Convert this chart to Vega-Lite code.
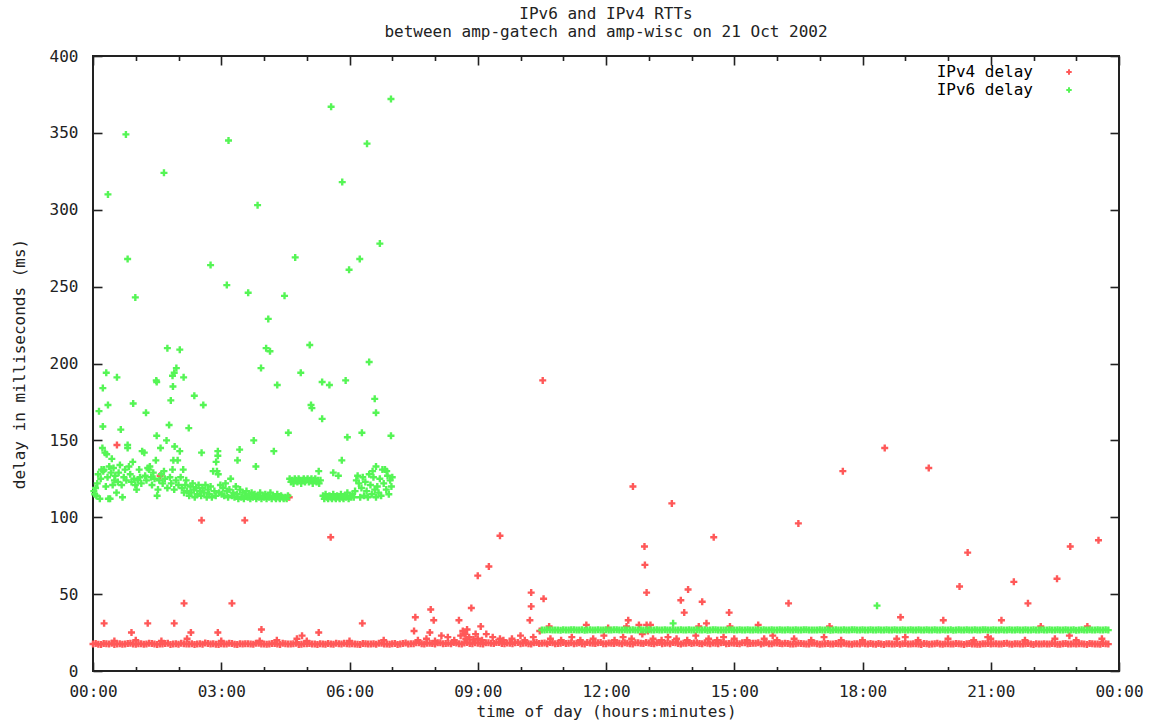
{
"$schema":"https://vega.github.io/schema/vega-lite/v6.json",
"width":1026,"height":615,"autosize":"none",
"padding":{"left":93,"top":56,"right":31,"bottom":52},
"background":"white",
"config":{"font":"DejaVu Sans Mono","view":{"stroke":"#222","strokeWidth":2},
"axis":{"labelFont":"DejaVu Sans Mono","labelFontSize":16,"labelColor":"#222","titleFont":"DejaVu Sans Mono","titleFontSize":16,"titleFontWeight":"normal","titleColor":"#222","tickColor":"#222","tickWidth":1.6,"domain":false,"grid":false,"labelOverlap":false,"labelFlush":false}},
"title":{"text":["IPv6 and IPv4 RTTs","between amp-gatech and amp-wisc on 21 Oct 2002"],"font":"DejaVu Sans Mono","fontSize":16,"fontWeight":"normal","color":"#222","anchor":"middle","lineHeight":18,"offset":8},
"datasets":{
"v4":[
{"t":0,"d":17.6},{"t":0.125,"d":17.4},{"t":0.25,"d":17.9},{"t":0.375,"d":17.5},{"t":0.5,"d":17.3},{"t":0.625,"d":17.8},{"t":0.75,"d":17.6},{"t":0.875,"d":18.1},
{"t":1,"d":17.4},{"t":1.125,"d":17.7},{"t":1.25,"d":17.5},{"t":1.375,"d":17.9},{"t":1.5,"d":17.3},{"t":1.625,"d":17.6},{"t":1.75,"d":18.0},{"t":1.875,"d":17.5},
{"t":2,"d":17.4},{"t":2.125,"d":17.8},{"t":2.25,"d":17.6},{"t":2.375,"d":17.3},{"t":2.5,"d":17.7},{"t":2.625,"d":18.2},{"t":2.75,"d":17.5},{"t":2.875,"d":17.4},
{"t":3,"d":17.8},{"t":3.125,"d":17.6},{"t":3.25,"d":17.9},{"t":3.375,"d":17.3},{"t":3.5,"d":17.5},{"t":3.625,"d":17.7},{"t":3.75,"d":17.4},{"t":3.875,"d":18.0},
{"t":4,"d":17.6},{"t":4.125,"d":17.5},{"t":4.25,"d":17.9},{"t":4.375,"d":17.3},{"t":4.5,"d":17.7},{"t":4.625,"d":17.6},{"t":4.75,"d":18.1},{"t":4.875,"d":17.4},
{"t":5,"d":17.8},{"t":5.125,"d":17.5},{"t":5.25,"d":17.3},{"t":5.375,"d":17.6},{"t":5.5,"d":17.9},{"t":5.625,"d":17.4},{"t":5.75,"d":17.7},{"t":5.875,"d":18.0},
{"t":6,"d":17.5},{"t":6.125,"d":17.6},{"t":6.25,"d":17.3},{"t":6.375,"d":17.8},{"t":6.5,"d":17.6},{"t":6.625,"d":17.4},{"t":6.75,"d":18.1},{"t":6.875,"d":17.5},
{"t":7,"d":17.7},{"t":7.125,"d":17.3},{"t":7.25,"d":17.9},{"t":7.375,"d":17.6},{"t":7.5,"d":17.8},{"t":7.625,"d":18.3},{"t":7.75,"d":17.6},{"t":7.875,"d":18.0},
{"t":8,"d":17.5},{"t":8.125,"d":18.4},{"t":8.25,"d":17.9},{"t":8.375,"d":17.7},{"t":8.5,"d":18.2},{"t":8.625,"d":17.6},{"t":8.75,"d":18.5},{"t":8.875,"d":17.8},
{"t":9,"d":18.1},{"t":9.125,"d":17.6},{"t":9.25,"d":18.3},{"t":9.375,"d":17.9},{"t":9.5,"d":18.6},{"t":9.625,"d":17.7},{"t":9.75,"d":18.0},{"t":9.875,"d":18.4},
{"t":10,"d":17.8},{"t":10.125,"d":18.2},{"t":10.25,"d":17.6},{"t":10.375,"d":18.5},{"t":10.5,"d":18.0},{"t":10.625,"d":17.7},{"t":10.75,"d":18.3},{"t":10.875,"d":17.9},
{"t":11,"d":18.6},{"t":11.125,"d":18.1},{"t":11.25,"d":17.8},{"t":11.375,"d":18.4},{"t":11.5,"d":17.6},{"t":11.625,"d":18.2},{"t":11.75,"d":17.9},{"t":11.875,"d":18.5},
{"t":12,"d":17.7},{"t":12.125,"d":18.1},{"t":12.25,"d":18.3},{"t":12.375,"d":17.8},{"t":12.5,"d":18.0},{"t":12.625,"d":17.6},{"t":12.75,"d":18.4},{"t":12.875,"d":17.9},
{"t":13,"d":18.2},{"t":13.125,"d":17.7},{"t":13.25,"d":18.5},{"t":13.375,"d":18.0},{"t":13.5,"d":17.8},{"t":13.625,"d":18.3},{"t":13.75,"d":17.6},{"t":13.875,"d":18.1},
{"t":14,"d":17.9},{"t":14.125,"d":18.4},{"t":14.25,"d":17.7},{"t":14.375,"d":18.0},{"t":14.5,"d":18.2},{"t":14.625,"d":17.8},{"t":14.75,"d":18.5},{"t":14.875,"d":17.9},
{"t":15,"d":18.1},{"t":15.125,"d":17.7},{"t":15.25,"d":18.3},{"t":15.375,"d":17.9},{"t":15.5,"d":18.0},{"t":15.625,"d":17.6},{"t":15.75,"d":18.4},{"t":15.875,"d":17.8},
{"t":16,"d":18.2},{"t":16.125,"d":17.7},{"t":16.25,"d":17.9},{"t":16.375,"d":17.5},{"t":16.5,"d":18.1},{"t":16.625,"d":17.7},{"t":16.75,"d":17.6},{"t":16.875,"d":18.0},
{"t":17,"d":17.4},{"t":17.125,"d":17.8},{"t":17.25,"d":17.6},{"t":17.375,"d":17.9},{"t":17.5,"d":17.5},{"t":17.625,"d":17.8},{"t":17.75,"d":17.4},{"t":17.875,"d":17.7},
{"t":18,"d":18.0},{"t":18.125,"d":17.5},{"t":18.25,"d":17.6},{"t":18.375,"d":17.9},{"t":18.5,"d":17.3},{"t":18.625,"d":17.7},{"t":18.75,"d":17.6},{"t":18.875,"d":17.4},
{"t":19,"d":17.9},{"t":19.125,"d":17.5},{"t":19.25,"d":17.8},{"t":19.375,"d":17.3},{"t":19.5,"d":17.7},{"t":19.625,"d":17.6},{"t":19.75,"d":18.0},{"t":19.875,"d":17.4},
{"t":20,"d":17.8},{"t":20.125,"d":17.5},{"t":20.25,"d":17.7},{"t":20.375,"d":17.3},{"t":20.5,"d":17.9},{"t":20.625,"d":17.6},{"t":20.75,"d":17.4},{"t":20.875,"d":17.8},
{"t":21,"d":17.5},{"t":21.125,"d":17.7},{"t":21.25,"d":17.6},{"t":21.375,"d":18.0},{"t":21.5,"d":17.4},{"t":21.625,"d":17.7},{"t":21.75,"d":17.5},{"t":21.875,"d":17.9},
{"t":22,"d":17.3},{"t":22.125,"d":17.6},{"t":22.25,"d":17.8},{"t":22.375,"d":17.5},{"t":22.5,"d":17.7},{"t":22.625,"d":17.4},{"t":22.75,"d":17.9},{"t":22.875,"d":17.6},
{"t":23,"d":17.5},{"t":23.125,"d":17.8},{"t":23.25,"d":17.3},{"t":23.375,"d":17.7},{"t":23.5,"d":17.6},{"t":23.625,"d":17.9},{"t":23.75,"d":17.5},
{"t":0.0625,"d":17.9},{"t":0.1875,"d":17.3},{"t":0.3125,"d":17.7},{"t":0.4375,"d":18.0},{"t":0.5625,"d":17.5},{"t":0.6875,"d":17.4},{"t":0.8125,"d":17.9},{"t":0.9375,"d":17.6},
{"t":1.0625,"d":17.8},{"t":1.1875,"d":17.4},{"t":1.3125,"d":18.1},{"t":1.4375,"d":17.6},{"t":1.5625,"d":17.5},{"t":1.6875,"d":17.9},{"t":1.8125,"d":17.3},{"t":1.9375,"d":17.7},
{"t":2.0625,"d":18.0},{"t":2.1875,"d":17.5},{"t":2.3125,"d":17.8},{"t":2.4375,"d":17.6},{"t":2.5625,"d":17.4},{"t":2.6875,"d":17.9},{"t":2.8125,"d":17.7},{"t":2.9375,"d":17.3},
{"t":3.0625,"d":17.6},{"t":3.1875,"d":18.0},{"t":3.3125,"d":17.4},{"t":3.4375,"d":17.8},{"t":3.5625,"d":17.7},{"t":3.6875,"d":17.5},{"t":3.8125,"d":18.1},{"t":3.9375,"d":17.6},
{"t":4.0625,"d":17.4},{"t":4.1875,"d":17.9},{"t":4.3125,"d":17.6},{"t":4.4375,"d":18.0},{"t":4.5625,"d":17.5},{"t":4.6875,"d":17.8},{"t":4.8125,"d":17.3},{"t":4.9375,"d":17.7},
{"t":5.0625,"d":17.9},{"t":5.1875,"d":17.6},{"t":5.3125,"d":17.8},{"t":5.4375,"d":17.4},{"t":5.5625,"d":17.6},{"t":5.6875,"d":18.0},{"t":5.8125,"d":17.5},{"t":5.9375,"d":17.7},
{"t":6.0625,"d":17.8},{"t":6.1875,"d":17.4},{"t":6.3125,"d":17.9},{"t":6.4375,"d":17.5},{"t":6.5625,"d":17.7},{"t":6.6875,"d":18.0},{"t":6.8125,"d":17.6},{"t":6.9375,"d":17.4},
{"t":7.0625,"d":17.9},{"t":7.1875,"d":17.6},{"t":7.3125,"d":18.2},{"t":7.4375,"d":17.8},{"t":7.5625,"d":18.4},{"t":7.6875,"d":17.7},{"t":7.8125,"d":18.1},{"t":7.9375,"d":17.9},
{"t":8.0625,"d":18.3},{"t":8.1875,"d":17.8},{"t":8.3125,"d":18.0},{"t":8.4375,"d":18.5},{"t":8.5625,"d":17.7},{"t":8.6875,"d":18.2},{"t":8.8125,"d":17.9},{"t":8.9375,"d":18.4},
{"t":9.0625,"d":17.8},{"t":9.1875,"d":18.3},{"t":9.3125,"d":18.0},{"t":9.4375,"d":18.5},{"t":9.5625,"d":17.9},{"t":9.6875,"d":18.2},{"t":9.8125,"d":17.7},{"t":9.9375,"d":18.6},
{"t":10.0625,"d":18.1},{"t":10.1875,"d":17.8},{"t":10.3125,"d":18.4},{"t":10.4375,"d":17.9},{"t":10.5625,"d":18.2},{"t":10.6875,"d":18.5},{"t":10.8125,"d":17.8},{"t":10.9375,"d":18.1},
{"t":11.0625,"d":17.9},{"t":11.1875,"d":18.3},{"t":11.3125,"d":18.0},{"t":11.4375,"d":17.7},{"t":11.5625,"d":18.5},{"t":11.6875,"d":18.1},{"t":11.8125,"d":18.4},{"t":11.9375,"d":17.8},
{"t":12.0625,"d":18.2},{"t":12.1875,"d":17.9},{"t":12.3125,"d":18.0},{"t":12.4375,"d":18.4},{"t":12.5625,"d":17.7},{"t":12.6875,"d":18.3},{"t":12.8125,"d":18.1},{"t":12.9375,"d":18.5},
{"t":13.0625,"d":17.9},{"t":13.1875,"d":18.3},{"t":13.3125,"d":17.8},{"t":13.4375,"d":18.2},{"t":13.5625,"d":18.6},{"t":13.6875,"d":17.9},{"t":13.8125,"d":18.0},{"t":13.9375,"d":18.4},
{"t":14.0625,"d":18.2},{"t":14.1875,"d":17.9},{"t":14.3125,"d":18.3},{"t":14.4375,"d":17.8},{"t":14.5625,"d":18.1},{"t":14.6875,"d":18.4},{"t":14.8125,"d":17.7},{"t":14.9375,"d":18.2},
{"t":15.0625,"d":17.9},{"t":15.1875,"d":18.3},{"t":15.3125,"d":17.8},{"t":15.4375,"d":18.1},{"t":15.5625,"d":18.4},{"t":15.6875,"d":18.0},{"t":15.8125,"d":17.7},{"t":15.9375,"d":18.2},
{"t":16.0625,"d":17.9},{"t":16.1875,"d":18.1},{"t":16.3125,"d":17.6},{"t":16.4375,"d":17.8},{"t":16.5625,"d":17.9},{"t":16.6875,"d":17.5},{"t":16.8125,"d":18.0},{"t":16.9375,"d":17.7},
{"t":17.0625,"d":17.6},{"t":17.1875,"d":17.9},{"t":17.3125,"d":17.5},{"t":17.4375,"d":17.7},{"t":17.5625,"d":18.0},{"t":17.6875,"d":17.6},{"t":17.8125,"d":17.8},{"t":17.9375,"d":17.5},
{"t":18.0625,"d":17.7},{"t":18.1875,"d":17.9},{"t":18.3125,"d":17.4},{"t":18.4375,"d":17.6},{"t":18.5625,"d":17.8},{"t":18.6875,"d":17.5},{"t":18.8125,"d":17.9},{"t":18.9375,"d":17.7},
{"t":19.0625,"d":17.6},{"t":19.1875,"d":17.8},{"t":19.3125,"d":17.5},{"t":19.4375,"d":17.9},{"t":19.5625,"d":17.4},{"t":19.6875,"d":17.8},{"t":19.8125,"d":17.6},{"t":19.9375,"d":17.7},
{"t":20.0625,"d":17.6},{"t":20.1875,"d":17.9},{"t":20.3125,"d":17.5},{"t":20.4375,"d":17.8},{"t":20.5625,"d":17.6},{"t":20.6875,"d":17.4},{"t":20.8125,"d":17.7},{"t":20.9375,"d":17.9},
{"t":21.0625,"d":17.8},{"t":21.1875,"d":17.5},{"t":21.3125,"d":17.9},{"t":21.4375,"d":17.6},{"t":21.5625,"d":17.8},{"t":21.6875,"d":17.5},{"t":21.8125,"d":17.7},{"t":21.9375,"d":17.6},
{"t":22.0625,"d":17.8},{"t":22.1875,"d":17.5},{"t":22.3125,"d":17.6},{"t":22.4375,"d":17.9},{"t":22.5625,"d":17.4},{"t":22.6875,"d":17.8},{"t":22.8125,"d":17.6},{"t":22.9375,"d":17.7},
{"t":23.0625,"d":17.7},{"t":23.1875,"d":17.5},{"t":23.3125,"d":17.9},{"t":23.4375,"d":17.6},{"t":23.5625,"d":17.4},{"t":23.6875,"d":17.8},
{"t":0.26,"d":31},{"t":0.56,"d":147},{"t":0.9,"d":25},{"t":1.28,"d":31},{"t":1.57,"d":127},{"t":1.9,"d":31},{"t":2.13,"d":44},{"t":2.29,"d":25},{"t":2.54,"d":98},{"t":2.92,"d":25},{"t":3.25,"d":44},{"t":3.55,"d":98},{"t":3.94,"d":27},{"t":4.59,"d":113},{"t":4.77,"d":21},{"t":4.89,"d":23},{"t":5.28,"d":25},{"t":5.56,"d":87},{"t":6.3,"d":31},
{"t":0.5,"d":19.5},{"t":1.0,"d":20},{"t":1.6,"d":19.5},{"t":2.2,"d":21},{"t":3.0,"d":19.5},{"t":3.9,"d":19.5},{"t":4.3,"d":20},{"t":5.0,"d":19.5},{"t":6.0,"d":19.5},{"t":6.8,"d":20},
{"t":7.54,"d":35},{"t":7.51,"d":26},{"t":7.9,"d":40},{"t":7.97,"d":33},{"t":7.88,"d":25},{"t":8.15,"d":23},{"t":8.56,"d":33},{"t":8.85,"d":41},{"t":8.7,"d":24},{"t":8.75,"d":27},{"t":8.8,"d":22},{"t":8.9,"d":20.5},{"t":9.0,"d":21},{"t":9.07,"d":29},{"t":9.0,"d":62},{"t":9.26,"d":68},{"t":9.2,"d":24},{"t":9.52,"d":21},{"t":9.52,"d":88},{"t":10.25,"d":51},{"t":10.25,"d":42},{"t":10.22,"d":33},{"t":10.54,"d":47},{"t":10.67,"d":29},{"t":10.52,"d":189},{"t":11.54,"d":30},{"t":12.05,"d":28},{"t":12.48,"d":29},{"t":12.52,"d":33},{"t":12.63,"d":120},{"t":12.77,"d":30},{"t":12.9,"d":81},{"t":12.91,"d":69},{"t":12.95,"d":51},{"t":12.95,"d":30},{"t":13.04,"d":30},{"t":13.54,"d":109},{"t":13.75,"d":46},{"t":13.83,"d":38},{"t":13.92,"d":53},{"t":14.17,"d":29},{"t":14.25,"d":45},{"t":14.35,"d":31},{"t":14.52,"d":87},{"t":14.88,"d":38},{"t":14.9,"d":29},{"t":15.56,"d":30},{"t":15.9,"d":23},{"t":16.27,"d":44},{"t":16.5,"d":96},{"t":17.23,"d":29},{"t":17.54,"d":130},{"t":18.52,"d":145},{"t":18.89,"d":35},{"t":19.0,"d":22},{"t":19.55,"d":132},{"t":19.89,"d":33},{"t":20.27,"d":55},{"t":20.46,"d":77},{"t":20.93,"d":22},{"t":21.25,"d":33},{"t":21.54,"d":58},{"t":21.87,"d":44},{"t":22.17,"d":29},{"t":22.55,"d":60},{"t":22.86,"d":81},{"t":22.84,"d":23},{"t":23.26,"d":29},{"t":23.52,"d":85},
{"t":7.6,"d":20},{"t":7.8,"d":21},{"t":8.0,"d":19.5},{"t":8.3,"d":22},{"t":8.45,"d":20},{"t":8.6,"d":23},{"t":8.65,"d":26},{"t":8.72,"d":21},{"t":8.95,"d":24},{"t":9.1,"d":20},{"t":9.35,"d":22},{"t":9.6,"d":20},{"t":9.8,"d":21},{"t":10.0,"d":23},{"t":10.1,"d":20},{"t":10.3,"d":22},{"t":10.45,"d":26},{"t":10.7,"d":21},{"t":10.95,"d":20},{"t":11.2,"d":22},{"t":11.4,"d":20},{"t":11.7,"d":21},{"t":11.95,"d":23},{"t":12.2,"d":20},{"t":12.4,"d":22},{"t":12.6,"d":21},{"t":12.85,"d":24},{"t":12.98,"d":26},{"t":13.1,"d":21},{"t":13.3,"d":20},{"t":13.45,"d":22},{"t":13.65,"d":21},{"t":13.9,"d":20},{"t":14.1,"d":23},{"t":14.4,"d":21},{"t":14.6,"d":20},{"t":14.75,"d":22},{"t":15.0,"d":21},{"t":15.3,"d":20},{"t":15.7,"d":21},{"t":16.0,"d":20},{"t":16.4,"d":21},{"t":16.8,"d":20},{"t":17.1,"d":22},{"t":17.5,"d":20},{"t":18.0,"d":20},{"t":18.8,"d":21},{"t":19.3,"d":20},{"t":20.0,"d":21},{"t":20.6,"d":20},{"t":21.0,"d":21},{"t":21.8,"d":20},{"t":22.5,"d":21},{"t":23.0,"d":20},{"t":23.6,"d":21}
],
"v6":[
{"t":10.5,"d":26.7},{"t":10.625,"d":26.8},{"t":10.75,"d":26.6},{"t":10.875,"d":26.7},
{"t":11,"d":26.9},{"t":11.125,"d":26.6},{"t":11.25,"d":26.8},{"t":11.375,"d":26.7},{"t":11.5,"d":26.5},{"t":11.625,"d":26.8},{"t":11.75,"d":26.7},{"t":11.875,"d":26.6},
{"t":12,"d":26.8},{"t":12.125,"d":26.7},{"t":12.25,"d":26.9},{"t":12.375,"d":26.6},{"t":12.5,"d":26.7},{"t":12.625,"d":26.8},{"t":12.75,"d":26.6},{"t":12.875,"d":26.7},
{"t":13,"d":26.8},{"t":13.125,"d":26.6},{"t":13.25,"d":26.7},{"t":13.375,"d":26.9},{"t":13.5,"d":26.7},{"t":13.625,"d":26.6},{"t":13.75,"d":26.8},{"t":13.875,"d":26.7},
{"t":14,"d":26.6},{"t":14.125,"d":26.8},{"t":14.25,"d":26.7},{"t":14.375,"d":26.5},{"t":14.5,"d":26.8},{"t":14.625,"d":26.7},{"t":14.75,"d":26.6},{"t":14.875,"d":26.8},
{"t":15,"d":26.7},{"t":15.125,"d":26.9},{"t":15.25,"d":26.6},{"t":15.375,"d":26.7},{"t":15.5,"d":26.8},{"t":15.625,"d":26.6},{"t":15.75,"d":26.7},{"t":15.875,"d":26.8},
{"t":16,"d":26.6},{"t":16.125,"d":26.7},{"t":16.25,"d":26.9},{"t":16.375,"d":26.7},{"t":16.5,"d":26.6},{"t":16.625,"d":26.8},{"t":16.75,"d":26.7},{"t":16.875,"d":26.6},
{"t":17,"d":26.8},{"t":17.125,"d":26.7},{"t":17.25,"d":26.5},{"t":17.375,"d":26.8},{"t":17.5,"d":26.7},{"t":17.625,"d":26.6},{"t":17.75,"d":26.8},{"t":17.875,"d":26.7},
{"t":18,"d":26.9},{"t":18.125,"d":26.6},{"t":18.25,"d":26.7},{"t":18.375,"d":26.8},{"t":18.5,"d":26.6},{"t":18.625,"d":26.7},{"t":18.75,"d":26.8},{"t":18.875,"d":26.6},
{"t":19,"d":26.7},{"t":19.125,"d":26.9},{"t":19.25,"d":26.7},{"t":19.375,"d":26.6},{"t":19.5,"d":26.8},{"t":19.625,"d":26.7},{"t":19.75,"d":26.6},{"t":19.875,"d":26.8},
{"t":20,"d":26.7},{"t":20.125,"d":26.5},{"t":20.25,"d":26.8},{"t":20.375,"d":26.7},{"t":20.5,"d":26.6},{"t":20.625,"d":26.8},{"t":20.75,"d":26.7},{"t":20.875,"d":26.9},
{"t":21,"d":26.6},{"t":21.125,"d":26.7},{"t":21.25,"d":26.8},{"t":21.375,"d":26.6},{"t":21.5,"d":26.7},{"t":21.625,"d":26.8},{"t":21.75,"d":26.6},{"t":21.875,"d":26.7},
{"t":22,"d":26.9},{"t":22.125,"d":26.7},{"t":22.25,"d":26.6},{"t":22.375,"d":26.8},{"t":22.5,"d":26.7},{"t":22.625,"d":26.6},{"t":22.75,"d":26.8},{"t":22.875,"d":26.7},
{"t":23,"d":26.5},{"t":23.125,"d":26.8},{"t":23.25,"d":26.7},{"t":23.375,"d":26.6},{"t":23.5,"d":26.8},{"t":23.625,"d":26.7},{"t":23.75,"d":26.6},
{"t":10.5625,"d":26.6},{"t":10.6875,"d":26.9},{"t":10.8125,"d":26.7},{"t":10.9375,"d":26.5},
{"t":11.0625,"d":26.7},{"t":11.1875,"d":26.8},{"t":11.3125,"d":26.6},{"t":11.4375,"d":26.9},{"t":11.5625,"d":26.7},{"t":11.6875,"d":26.6},{"t":11.8125,"d":26.8},{"t":11.9375,"d":26.7},
{"t":12.0625,"d":26.6},{"t":12.1875,"d":26.8},{"t":12.3125,"d":26.7},{"t":12.4375,"d":26.9},{"t":12.5625,"d":26.6},{"t":12.6875,"d":26.7},{"t":12.8125,"d":26.8},{"t":12.9375,"d":26.6},
{"t":13.0625,"d":26.7},{"t":13.1875,"d":26.9},{"t":13.3125,"d":26.6},{"t":13.4375,"d":26.7},{"t":13.5625,"d":26.8},{"t":13.6875,"d":26.7},{"t":13.8125,"d":26.6},{"t":13.9375,"d":26.8},
{"t":14.0625,"d":26.7},{"t":14.1875,"d":26.6},{"t":14.3125,"d":26.8},{"t":14.4375,"d":26.7},{"t":14.5625,"d":26.9},{"t":14.6875,"d":26.6},{"t":14.8125,"d":26.7},{"t":14.9375,"d":26.8},
{"t":15.0625,"d":26.6},{"t":15.1875,"d":26.7},{"t":15.3125,"d":26.8},{"t":15.4375,"d":26.6},{"t":15.5625,"d":26.7},{"t":15.6875,"d":26.9},{"t":15.8125,"d":26.7},{"t":15.9375,"d":26.6},
{"t":16.0625,"d":26.8},{"t":16.1875,"d":26.7},{"t":16.3125,"d":26.6},{"t":16.4375,"d":26.8},{"t":16.5625,"d":26.7},{"t":16.6875,"d":26.9},{"t":16.8125,"d":26.6},{"t":16.9375,"d":26.7},
{"t":17.0625,"d":26.6},{"t":17.1875,"d":26.8},{"t":17.3125,"d":26.7},{"t":17.4375,"d":26.6},{"t":17.5625,"d":26.8},{"t":17.6875,"d":26.7},{"t":17.8125,"d":26.9},{"t":17.9375,"d":26.6},
{"t":18.0625,"d":26.7},{"t":18.1875,"d":26.8},{"t":18.3125,"d":26.6},{"t":18.4375,"d":26.7},{"t":18.5625,"d":26.8},{"t":18.6875,"d":26.6},{"t":18.8125,"d":26.7},{"t":18.9375,"d":26.9},
{"t":19.0625,"d":26.6},{"t":19.1875,"d":26.7},{"t":19.3125,"d":26.8},{"t":19.4375,"d":26.7},{"t":19.5625,"d":26.6},{"t":19.6875,"d":26.8},{"t":19.8125,"d":26.7},{"t":19.9375,"d":26.6},
{"t":20.0625,"d":26.8},{"t":20.1875,"d":26.7},{"t":20.3125,"d":26.6},{"t":20.4375,"d":26.9},{"t":20.5625,"d":26.7},{"t":20.6875,"d":26.6},{"t":20.8125,"d":26.8},{"t":20.9375,"d":26.7},
{"t":21.0625,"d":26.8},{"t":21.1875,"d":26.6},{"t":21.3125,"d":26.7},{"t":21.4375,"d":26.8},{"t":21.5625,"d":26.6},{"t":21.6875,"d":26.7},{"t":21.8125,"d":26.9},{"t":21.9375,"d":26.6},
{"t":22.0625,"d":26.7},{"t":22.1875,"d":26.8},{"t":22.3125,"d":26.7},{"t":22.4375,"d":26.6},{"t":22.5625,"d":26.8},{"t":22.6875,"d":26.7},{"t":22.8125,"d":26.6},{"t":22.9375,"d":26.8},
{"t":23.0625,"d":26.7},{"t":23.1875,"d":26.6},{"t":23.3125,"d":26.8},{"t":23.4375,"d":26.7},{"t":23.5625,"d":26.6},{"t":23.6875,"d":26.8},
{"t":13.57,"d":31},{"t":18.34,"d":42.5},
{"t":0.02,"d":117},{"t":0.04,"d":115},{"t":0.06,"d":119},{"t":0.08,"d":114},{"t":0.1,"d":122},{"t":0.12,"d":128},{"t":0.14,"d":169},{"t":0.16,"d":112},{"t":0.18,"d":125},{"t":0.2,"d":131},{"t":0.22,"d":145},{"t":0.23,"d":159},{"t":0.23,"d":184},{"t":0.24,"d":130},{"t":0.26,"d":131},{"t":0.28,"d":142},{"t":0.3,"d":120},{"t":0.31,"d":194},{"t":0.32,"d":141},{"t":0.34,"d":126},{"t":0.35,"d":173},{"t":0.35,"d":310},{"t":0.36,"d":112},{"t":0.38,"d":133},{"t":0.4,"d":112},{"t":0.42,"d":129},{"t":0.44,"d":138},{"t":0.46,"d":121},{"t":0.48,"d":132},{"t":0.5,"d":124},
{"t":0.52,"d":127},{"t":0.55,"d":116},{"t":0.56,"d":191},{"t":0.58,"d":123},{"t":0.6,"d":129},{"t":0.63,"d":134},{"t":0.65,"d":157},{"t":0.67,"d":121},{"t":0.69,"d":113},{"t":0.72,"d":126},{"t":0.75,"d":131},{"t":0.77,"d":349},{"t":0.78,"d":124},{"t":0.81,"d":147},{"t":0.81,"d":145},{"t":0.81,"d":268},{"t":0.84,"d":133},{"t":0.87,"d":128},{"t":0.9,"d":123},{"t":0.93,"d":136},{"t":0.94,"d":174},{"t":0.96,"d":125},{"t":0.99,"d":121},{"t":0.99,"d":243},
{"t":1.02,"d":118},{"t":1.05,"d":124},{"t":1.08,"d":131},{"t":1.1,"d":126},{"t":1.13,"d":122},{"t":1.15,"d":143},{"t":1.2,"d":142},{"t":1.22,"d":127},{"t":1.24,"d":168},{"t":1.25,"d":124},{"t":1.28,"d":132},{"t":1.31,"d":131},{"t":1.33,"d":133},{"t":1.36,"d":126},{"t":1.38,"d":121},{"t":1.41,"d":129},{"t":1.44,"d":125},{"t":1.47,"d":137},{"t":1.48,"d":189},{"t":1.49,"d":153},{"t":1.49,"d":188},{"t":1.5,"d":114},{"t":1.52,"d":118},
{"t":1.55,"d":124},{"t":1.58,"d":145},{"t":1.6,"d":128},{"t":1.63,"d":122},{"t":1.66,"d":130},{"t":1.66,"d":324},{"t":1.68,"d":125},{"t":1.72,"d":150},{"t":1.74,"d":119},{"t":1.74,"d":210},{"t":1.78,"d":160},{"t":1.8,"d":126},{"t":1.82,"d":176},{"t":1.83,"d":122},{"t":1.86,"d":131},{"t":1.86,"d":192},{"t":1.87,"d":185},{"t":1.88,"d":137},{"t":1.9,"d":118},{"t":1.9,"d":194},{"t":1.91,"d":146},{"t":1.94,"d":124},{"t":1.95,"d":197},{"t":1.98,"d":137},{"t":2.0,"d":121},
{"t":2.03,"d":143},{"t":2.03,"d":209},{"t":2.05,"d":126},{"t":2.08,"d":119},{"t":2.11,"d":131},{"t":2.12,"d":191},{"t":2.13,"d":116},{"t":2.16,"d":121},{"t":2.18,"d":124},{"t":2.2,"d":117},{"t":2.24,"d":158},{"t":2.25,"d":114},{"t":2.28,"d":120},{"t":2.3,"d":116},{"t":2.33,"d":122},{"t":2.36,"d":118},{"t":2.37,"d":179},{"t":2.38,"d":113},{"t":2.41,"d":119},{"t":2.44,"d":115},{"t":2.47,"d":121},{"t":2.5,"d":117},
{"t":2.53,"d":114},{"t":2.54,"d":142},{"t":2.56,"d":119},{"t":2.58,"d":173},{"t":2.6,"d":116},{"t":2.63,"d":121},{"t":2.66,"d":113},{"t":2.69,"d":118},{"t":2.72,"d":115},{"t":2.75,"d":120},{"t":2.75,"d":264},{"t":2.78,"d":113},{"t":2.81,"d":130},{"t":2.84,"d":117},{"t":2.87,"d":114},{"t":2.88,"d":136},{"t":2.9,"d":130},{"t":2.92,"d":143},{"t":2.92,"d":140},{"t":2.93,"d":128},{"t":2.95,"d":116},{"t":2.98,"d":121},
{"t":3.01,"d":115},{"t":3.04,"d":119},{"t":3.07,"d":114},{"t":3.1,"d":122},{"t":3.13,"d":117},{"t":3.13,"d":251},{"t":3.16,"d":113},{"t":3.17,"d":345},{"t":3.19,"d":118},{"t":3.22,"d":125},{"t":3.25,"d":114},{"t":3.28,"d":116},{"t":3.31,"d":113},{"t":3.34,"d":120},{"t":3.37,"d":115},{"t":3.38,"d":137},{"t":3.4,"d":112},{"t":3.43,"d":144},{"t":3.44,"d":118},{"t":3.47,"d":113},
{"t":3.5,"d":116},{"t":3.53,"d":112},{"t":3.56,"d":114},{"t":3.59,"d":117},{"t":3.62,"d":113},{"t":3.63,"d":246},{"t":3.65,"d":115},{"t":3.68,"d":112},{"t":3.71,"d":116},{"t":3.74,"d":113},{"t":3.76,"d":150},{"t":3.78,"d":115},{"t":3.81,"d":133},{"t":3.82,"d":112},{"t":3.85,"d":114},{"t":3.85,"d":303},{"t":3.88,"d":113},{"t":3.91,"d":116},{"t":3.93,"d":197},{"t":3.94,"d":112},{"t":3.97,"d":114},
{"t":4.0,"d":113},{"t":4.03,"d":115},{"t":4.05,"d":210},{"t":4.06,"d":112},{"t":4.09,"d":114},{"t":4.1,"d":229},{"t":4.12,"d":113},{"t":4.14,"d":208},{"t":4.15,"d":116},{"t":4.18,"d":112},{"t":4.21,"d":114},{"t":4.23,"d":143},{"t":4.25,"d":113},{"t":4.28,"d":112},{"t":4.31,"d":115},{"t":4.31,"d":186},{"t":4.34,"d":113},{"t":4.37,"d":112},{"t":4.4,"d":114},{"t":4.43,"d":113},{"t":4.46,"d":112},{"t":4.48,"d":244},{"t":4.5,"d":113},{"t":4.53,"d":112},{"t":4.56,"d":114},{"t":4.57,"d":155},
{"t":4.6,"d":125},{"t":4.63,"d":123},{"t":4.66,"d":124},{"t":4.69,"d":122},{"t":4.72,"d":125},{"t":4.73,"d":269},{"t":4.75,"d":124},{"t":4.78,"d":123},{"t":4.81,"d":125},{"t":4.84,"d":124},{"t":4.86,"d":194},{"t":4.87,"d":122},{"t":4.9,"d":124},{"t":4.93,"d":125},{"t":4.96,"d":123},{"t":4.99,"d":124},{"t":5.02,"d":125},{"t":5.05,"d":123},{"t":5.07,"d":212},{"t":5.08,"d":124},{"t":5.1,"d":173},{"t":5.11,"d":125},{"t":5.12,"d":171},{"t":5.14,"d":122},{"t":5.17,"d":124},{"t":5.2,"d":125},{"t":5.23,"d":123},{"t":5.26,"d":124},{"t":5.29,"d":122},{"t":5.32,"d":124},{"t":5.28,"d":130},
{"t":5.36,"d":164},{"t":5.36,"d":188},{"t":5.38,"d":114},{"t":5.41,"d":112},{"t":5.44,"d":115},{"t":5.47,"d":113},{"t":5.5,"d":112},{"t":5.53,"d":114},{"t":5.53,"d":186},{"t":5.56,"d":113},{"t":5.57,"d":367},{"t":5.59,"d":112},{"t":5.62,"d":115},{"t":5.62,"d":129},{"t":5.65,"d":113},{"t":5.68,"d":112},{"t":5.71,"d":114},{"t":5.74,"d":127},{"t":5.74,"d":113},{"t":5.77,"d":112},{"t":5.8,"d":115},{"t":5.82,"d":137},{"t":5.83,"d":113},{"t":5.83,"d":318},{"t":5.86,"d":112},{"t":5.89,"d":114},{"t":5.91,"d":189},{"t":5.92,"d":113},{"t":5.95,"d":152},{"t":5.95,"d":116},{"t":5.98,"d":112},{"t":5.99,"d":261},{"t":6.01,"d":114},{"t":6.04,"d":113},{"t":6.07,"d":115},{"t":6.1,"d":113},{"t":6.13,"d":117},
{"t":6.16,"d":124},{"t":6.19,"d":127},{"t":6.22,"d":122},{"t":6.24,"d":268},{"t":6.25,"d":113},{"t":6.28,"d":119},{"t":6.29,"d":155},{"t":6.31,"d":126},{"t":6.34,"d":114},{"t":6.37,"d":123},{"t":6.4,"d":117},{"t":6.41,"d":343},{"t":6.43,"d":113},{"t":6.46,"d":128},{"t":6.46,"d":201},{"t":6.49,"d":121},{"t":6.52,"d":115},{"t":6.54,"d":130},{"t":6.56,"d":126},{"t":6.59,"d":118},{"t":6.59,"d":177},{"t":6.62,"d":113},{"t":6.62,"d":133},{"t":6.62,"d":168},{"t":6.65,"d":120},{"t":6.68,"d":116},{"t":6.71,"d":125},{"t":6.71,"d":278},{"t":6.74,"d":114},{"t":6.77,"d":131},{"t":6.8,"d":122},{"t":6.83,"d":131},{"t":6.86,"d":118},{"t":6.87,"d":130},{"t":6.89,"d":127},{"t":6.92,"d":115},{"t":6.95,"d":124},{"t":6.97,"d":153},{"t":6.97,"d":372},{"t":6.98,"d":120},{"t":7.0,"d":126}
]},
"layer":[
{"data":{"name":"v4"},
"mark":{"type":"point","shape":"M-1,0H1M0,-1V1","filled":false,"size":49,"strokeWidth":2.4,"opacity":1},
"encoding":{
"x":{"field":"t","type":"quantitative","scale":{"domain":[0,24],"nice":false,"zero":false},
"axis":{"orient":"bottom","values":[0,1,2,3,4,5,6,7,8,9,10,11,12,13,14,15,16,17,18,19,20,21,22,23,24],
"labelExpr":"datum.value % 3 === 0 ? ((datum.value % 24) < 10 ? '0' : '') + (datum.value % 24) + ':00' : ''",
"tickSize":{"condition":{"test":"datum.value % 3 === 0","value":-9},"value":-4.5},
"labelPadding":21,"title":"time of day (hours:minutes)","titlePadding":0}},
"y":{"field":"d","type":"quantitative","scale":{"domain":[0,400],"nice":false,"zero":true},
"axis":{"orient":"left","values":[0,50,100,150,200,250,300,350,400],"tickSize":-9,"labelPadding":24,"title":"delay in milliseconds (ms)","titlePadding":22}},
"color":{"datum":"IPv4 delay","type":"nominal","scale":{"domain":["IPv4 delay","IPv6 delay"],"range":["#ff5858","#55f555"]},
"legend":{"orient":"none","legendX":968,"legendY":8,"title":null,"labelAlign":"right","labelOffset":-44,"labelFont":"DejaVu Sans Mono","labelFontSize":16,"symbolType":"M-1,0H1M0,-1V1","symbolSize":30,"symbolStrokeWidth":2,"rowPadding":2,"padding":0,
"encode":{"labels":{"update":{"fill":{"scale":"color","field":"value"}}}}}}}},
{"data":{"name":"v6"},
"mark":{"type":"point","shape":"M-1,0H1M0,-1V1","filled":false,"size":49,"strokeWidth":2.4,"opacity":1},
"encoding":{
"x":{"field":"t","type":"quantitative",
"axis":{"orient":"top","values":[0,1,2,3,4,5,6,7,8,9,10,11,12,13,14,15,16,17,18,19,20,21,22,23,24],"labels":false,
"tickSize":{"condition":{"test":"datum.value % 3 === 0","value":-9},"value":-4.5},"title":null}},
"y":{"field":"d","type":"quantitative",
"axis":{"orient":"right","values":[0,50,100,150,200,250,300,350,400],"labels":false,"tickSize":-9,"title":null}},
"color":{"datum":"IPv6 delay","type":"nominal"}}}
],
"resolve":{"axis":{"x":"independent","y":"independent"}}
}
